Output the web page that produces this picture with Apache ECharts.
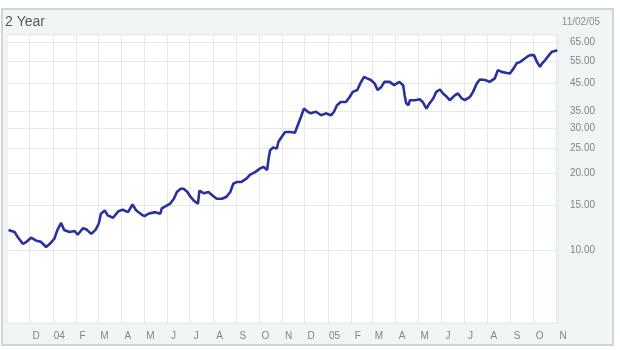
<!DOCTYPE html>
<html>
<head>
<meta charset="utf-8">
<script src="https://cdn.jsdelivr.net/npm/echarts@6/dist/echarts.min.js"></script>
<style>
html,body{margin:0;padding:0;background:#ffffff;}
#chart{width:620px;height:350px;}
</style>
</head>
<body>
<div id="chart"></div>
<script>
const dates = [
'2003-11-03','2003-11-11','2003-11-15','2003-11-22','2003-11-27','2003-12-03','2003-12-10','2003-12-16','2003-12-23','2003-12-28',
'2004-01-03','2004-01-07','2004-01-12','2004-01-16','2004-01-23','2004-01-30','2004-02-03','2004-02-10','2004-02-15','2004-02-21',
'2004-02-27','2004-03-02','2004-03-05','2004-03-10','2004-03-14','2004-03-21','2004-03-28','2004-04-03','2004-04-10','2004-04-16',
'2004-04-21','2004-04-28','2004-05-02','2004-05-07','2004-05-16','2004-05-23','2004-05-25','2004-06-01','2004-06-05','2004-06-10',
'2004-06-14','2004-06-19','2004-06-23','2004-06-28','2004-07-02','2004-07-06','2004-07-12','2004-07-14','2004-07-20','2004-07-26',
'2004-07-31','2004-08-06','2004-08-13','2004-08-19','2004-08-24','2004-08-28','2004-09-02','2004-09-08','2004-09-15','2004-09-19',
'2004-09-26','2004-10-03','2004-10-07','2004-10-12','2004-10-14','2004-10-16','2004-10-20','2004-10-25','2004-10-27','2004-11-01',
'2004-11-05','2004-11-12','2004-11-18','2004-11-21','2004-11-26','2004-11-30','2004-12-05','2004-12-09','2004-12-16','2004-12-23',
'2004-12-29','2005-01-05','2005-01-09','2005-01-13','2005-01-18','2005-01-25','2005-01-30','2005-02-03','2005-02-09','2005-02-13',
'2005-02-18','2005-02-22','2005-02-27','2005-03-04','2005-03-08','2005-03-13','2005-03-17','2005-03-24','2005-03-30','2005-04-06',
'2005-04-11','2005-04-13','2005-04-15','2005-04-18','2005-04-20','2005-04-27','2005-05-03','2005-05-07','2005-05-12','2005-05-16',
'2005-05-21','2005-05-25','2005-05-30','2005-06-03','2005-06-08','2005-06-12','2005-06-19','2005-06-23','2005-06-28','2005-07-02',
'2005-07-09','2005-07-13','2005-07-18','2005-07-22','2005-07-29','2005-08-04','2005-08-11','2005-08-15','2005-08-20','2005-08-27',
'2005-08-31','2005-09-05','2005-09-09','2005-09-14','2005-09-18','2005-09-23','2005-09-27','2005-10-02','2005-10-06','2005-10-10',
'2005-10-13','2005-10-17','2005-10-22','2005-10-26','2005-10-31','2005-11-02'
];
const prices = [
12.0,11.8,11.3,10.6,10.8,11.2,10.9,10.8,10.3,10.6,
11.1,12.0,12.8,12.0,11.8,11.9,11.5,12.2,12.05,11.6,
12.05,12.7,13.9,14.3,13.7,13.4,14.2,14.4,14.1,15.1,
14.3,13.8,13.6,13.9,14.1,13.9,14.6,15.0,15.2,15.9,
16.9,17.4,17.4,16.9,16.2,15.7,15.2,17.1,16.7,16.9,
16.4,15.9,15.9,16.2,16.9,18.2,18.5,18.5,19.1,19.7,
20.2,20.9,21.2,20.6,22.8,24.6,25.2,25.0,26.5,27.9,
29.0,29.0,28.8,30.4,33.2,35.8,34.8,34.3,34.8,33.7,
34.3,33.7,34.8,36.9,38.0,38.0,39.8,41.6,42.3,44.9,
47.6,47.0,46.3,44.9,42.3,43.5,45.5,45.5,44.2,45.5,
44.2,40.4,37.6,36.9,38.6,38.6,38.9,38.0,35.8,37.5,
39.2,41.6,42.5,41.0,39.8,38.6,40.4,41.0,39.2,38.6,
39.8,41.6,44.9,46.5,46.3,45.5,47.0,50.6,49.8,49.3,
49.1,51.4,53.8,54.5,55.7,57.1,57.9,57.9,54.5,52.1,
53.8,55.4,57.9,59.7,60.2,60.6
];
const yTicks = [10, 15, 20, 25, 30, 35, 45, 55, 65];
const monthStarts = ['2003-12-01','2004-01-01','2004-02-01','2004-03-01','2004-04-01','2004-05-01','2004-06-01','2004-07-01','2004-08-01','2004-09-01','2004-10-01','2004-11-01',
'2004-12-01','2005-01-01','2005-02-01','2005-03-01','2005-04-01','2005-05-01','2005-06-01','2005-07-01','2005-08-01','2005-09-01','2005-10-01','2005-11-01'];
const monthLabels = ['D','04','F','M','A','M','J','J','A','S','O','N','D','05','F','M','A','M','J','J','A','S','O','N'];
const titleText = '2 Year';
const dateText = '11/02/05';

const ts = d => Date.parse(d + 'T00:00:00Z');
const monthTs = monthStarts.map(ts);
const seriesData = dates.map((d, i) => [ts(d), prices[i]]);

const chart = echarts.init(document.getElementById('chart'), null, {renderer: 'canvas'});
chart.setOption({
  animation: false,
  backgroundColor: '#ffffff',
  textStyle: {fontFamily: 'Liberation Sans, Arial, sans-serif'},
  graphic: [
    {type: 'rect', z: -10, shape: {x: 2, y: 9, width: 611, height: 336}, style: {fill: '#f2f5f6', stroke: '#d2d5d8', lineWidth: 2}},
    {type: 'text', left: 5, top: 15, style: {text: titleText, fill: '#555a61', font: '14px Liberation Sans, Arial, sans-serif'}},
    {type: 'text', right: 20, top: 17, style: {text: dateText, fill: '#8a8f96', font: '10px Liberation Sans, Arial, sans-serif'}}
  ],
  grid: {left: 7, right: 62, top: 35, bottom: 27, show: true, backgroundColor: '#ffffff', borderColor: '#e4e7ea', borderWidth: 1},
  xAxis: {
    type: 'value',
    min: ts('2003-11-01'),
    max: ts('2005-11-03'),
    axisLine: {show: false},
    axisTick: {show: false, customValues: monthTs},
    axisLabel: {
      customValues: monthTs,
      color: '#80858c', fontSize: 10, margin: 8,
      padding: [0, 0, 0, 13],
      formatter: function (v) { const i = monthTs.indexOf(Math.round(v)); return i >= 0 ? monthLabels[i] : ''; }
    },
    splitLine: {show: true, lineStyle: {color: '#e6e9ec', width: 1}}
  },
  yAxis: {
    type: 'log',
    logBase: 10,
    position: 'right',
    min: 5.2,
    max: 69.4,
    axisLine: {show: false},
    axisTick: {show: false, customValues: yTicks},
    axisLabel: {
      customValues: yTicks,
      color: '#80858c', fontSize: 10, margin: 12,
      formatter: function (v) { return Number(v).toFixed(2); }
    },
    splitLine: {show: true, lineStyle: {color: '#e6e9ec', width: 1}},
    minorSplitLine: {show: false}
  },
  series: [{
    type: 'line',
    data: seriesData,
    showSymbol: false,
    lineStyle: {color: '#2a319c', width: 2.6},
    itemStyle: {color: '#2a319c'}
  }]
});
</script>
</body>
</html>
